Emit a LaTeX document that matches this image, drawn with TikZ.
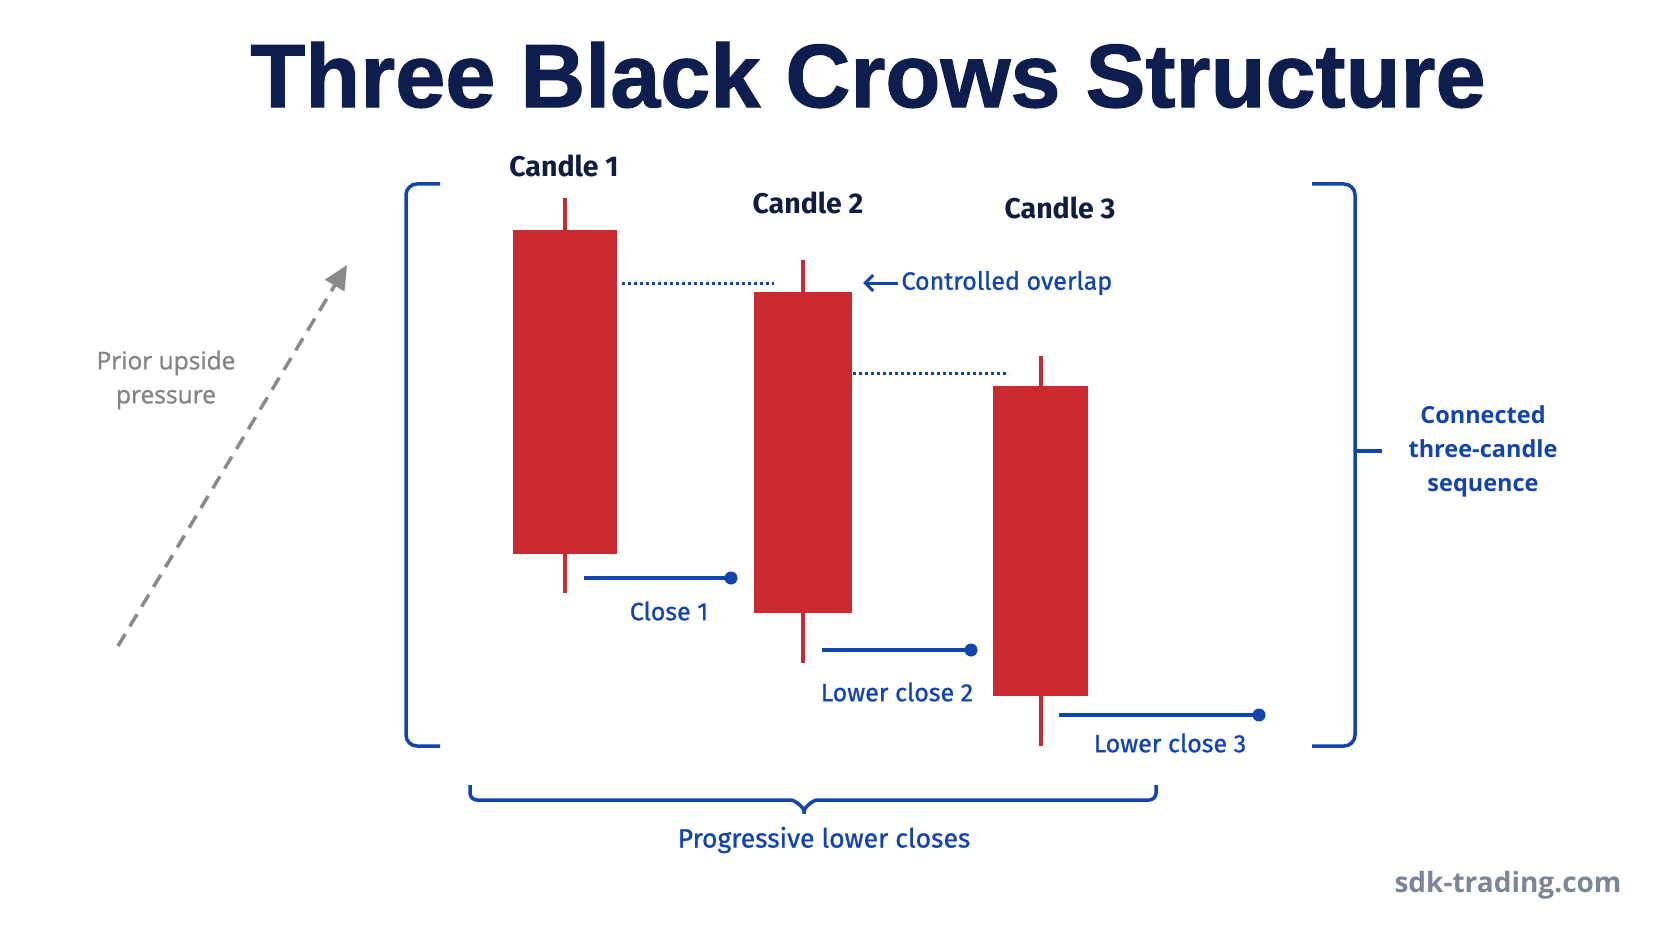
\documentclass[tikz,border=0pt]{standalone}
\usepackage{fontspec}
\setmainfont{Fira Sans}
\newfontfamily\titlefont{Liberation Sans}[FakeBold=1.2]
\newfontfamily\medfont{Fira Sans}[FakeBold=0.9]
\newfontfamily\widefont{Open Sans}
\newfontfamily\widemed{Open Sans}[FakeBold=0.9]
\usetikzlibrary{arrows.meta}

\definecolor{crowred}{HTML}{C9292F}
\definecolor{markblue}{HTML}{1244B0}
\definecolor{titlenavy}{HTML}{0C1D4E}
\definecolor{labelnavy}{HTML}{111C45}
\definecolor{pressgray}{HTML}{8A8A8A}
\definecolor{sitegray}{HTML}{7D8596}

\tikzset{
  body/.style={fill=crowred,draw=none,inner sep=0pt},
  wick/.style={crowred,line width=4pt},
  hint/.style={markblue,line width=3pt,dash pattern=on 3pt off 3pt},
  closeline/.style={markblue,line width=4pt},
  closedot/.style={circle,fill=markblue,inner sep=0pt,minimum size=13pt},
  frame/.style={markblue,line width=3.5pt,rounded corners=11pt},
  bluetext/.style={text=markblue,font=\medfont\fontsize{25}{28}\selectfont},
  candlelabel/.style={text=labelnavy,font=\fontsize{28.5}{32}\selectfont\bfseries},
}

\begin{document}
\begin{tikzpicture}[x=1pt,y=-1pt]
\useasboundingbox[fill=white] (0,0) rectangle (1672,941);
\node[text=titlenavy,font=\titlefont\bfseries\fontsize{90}{100}\selectfont] (title) at (868,75) {Three Black Crows Structure};
% candles
\node[body,minimum width=104pt,minimum height=324pt] (b1) at (565,392) {};
\node[body,minimum width=98pt,minimum height=321pt] (b2) at (803,452.5) {};
\node[body,minimum width=95pt,minimum height=310pt] (b3) at (1040.5,541) {};
\coordinate (w1t) at (565,198);
\coordinate (w1b) at (565,593);
\coordinate (w2t) at (803,260);
\coordinate (w2b) at (803,663);
\coordinate (w3t) at (1040.5,356);
\coordinate (w3b) at (1040.5,746);
\draw[wick] (b1.north) -- (w1t);
\draw[wick] (b1.south) -- (w1b);
\draw[wick] (b2.north) -- (w2t);
\draw[wick] (b2.south) -- (w2b);
\draw[wick] (b3.north) -- (w3t);
\draw[wick] (b3.south) -- (w3b);
\node[candlelabel] (c1) at (564,166) {Candle 1};
\node[candlelabel] (c2) at (808,203) {Candle 2};
\node[candlelabel] (c3) at (1060,208) {Candle 3};
% overlap
\coordinate (h1a) at (622,283);
\coordinate (h1b) at (774,283);
\coordinate (h2a) at (853,373);
\coordinate (h2b) at (1009,373);
\draw[hint] (h1a) -- (h1b);
\draw[hint] (h2a) -- (h2b);
\node[bluetext,anchor=west] (ovl) at (898,283) {Controlled overlap};
\coordinate (ovtip) at (863,283);
\draw[markblue,line width=3pt,-{Straight Barb[length=8pt,width=16pt,line width=3pt]}] (ovl.west) -- (ovtip);
% closes
\coordinate (s1) at (584,578);
\coordinate (s2) at (822,650);
\coordinate (s3) at (1059,715);
\node[closedot] (d1) at (731,578) {};
\node[closedot] (d2) at (971,650) {};
\node[closedot] (d3) at (1259,715) {};
\draw[closeline] (s1) -- (d1.center);
\draw[closeline] (s2) -- (d2.center);
\draw[closeline] (s3) -- (d3.center);
\node[bluetext] (l1) at (669,611) {Close 1};
\node[bluetext] (l2) at (897,692) {Lower close 2};
\node[bluetext] (l3) at (1170,743) {Lower close 3};
% brackets
\draw[frame] (440,184) -- (406,184) -- (406,746) -- (440,746);
\draw[frame] (1312,184) -- (1355,184) -- (1355,746) -- (1312,746);
\draw[markblue,line width=3.5pt] (1355,451) -- (1382,451);
\node[text=markblue,font=\widefont\bfseries\fontsize{23.5}{34}\selectfont,align=center] (seq) at (1483,451) {Connected\\three-candle\\sequence};
\draw[frame,rounded corners=7pt] (470,785) -- (470,800) -- (784,800) to[out=0,in=90] (804,818) to[out=90,in=180] (824,800) -- (1156,800) -- (1156,785);
\node[bluetext,font=\medfont\fontsize{26.5}{30}\selectfont] (prog) at (824,840) {Progressive lower closes};
% prior trend
\coordinate (p0) at (118,646);
\coordinate (p1) at (347,265);
\draw[pressgray,line width=3.5pt,dash pattern=on 14pt off 9pt,-{Triangle[length=24pt,width=22pt]}] (p0) -- (p1);
\node[text=pressgray!95!black,font=\widemed\fontsize{24.5}{34}\selectfont,align=center] (prior) at (166,380) {Prior upside\\pressure};
\node[text=sitegray,font=\widefont\bfseries\fontsize{28}{30}\selectfont] (site) at (1508,885) {sdk-trading.com};
\end{tikzpicture}
\end{document}
